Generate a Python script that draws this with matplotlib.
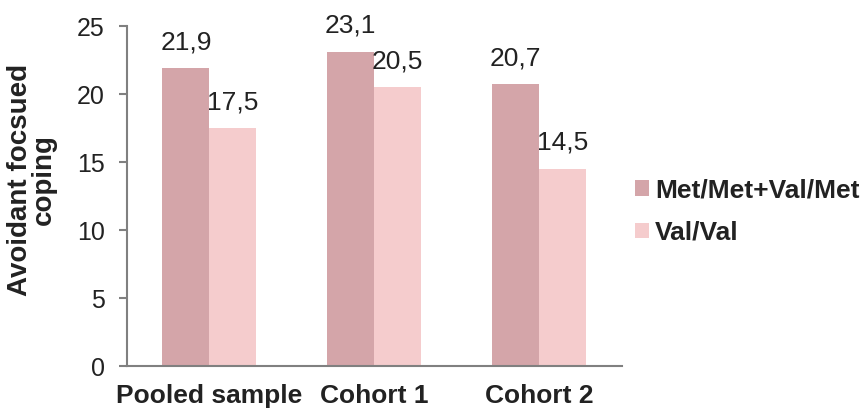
import matplotlib
matplotlib.use("Agg")
import matplotlib.pyplot as plt
import numpy as np

categories = ["Pooled sample", "Cohort 1", "Cohort 2"]
series_names = ["Met/Met+Val/Met", "Val/Val"]
met_values = [21.9, 23.1, 20.7]
val_values = [17.5, 20.5, 14.5]
yticks = [0, 5, 10, 15, 20, 25]

colors = ["#D4A5A9", "#F5CCCD"]
spine_color = "#808080"
text_color = "#222222"

plt.rcParams["font.family"] = ["Liberation Sans", "DejaVu Sans"]

fig = plt.figure(figsize=(8.66, 4.09), dpi=100)
ax = fig.add_axes([0.1467, 0.105, 0.571, 0.8314])

x = np.arange(len(categories))
w = 0.285
b1 = ax.bar(x - w / 2, met_values, width=w, color=colors[0], label=series_names[0])
b2 = ax.bar(x + w / 2, val_values, width=w, color=colors[1], label=series_names[1])

for bars, vals in ((b1, met_values), (b2, val_values)):
    for rect, v in zip(bars, vals):
        ax.annotate(f"{v:.1f}".replace(".", ","),
                    (rect.get_x() + rect.get_width() / 2, v),
                    xytext=(0, 10), textcoords="offset points",
                    ha="center", va="bottom", fontsize=19, color=text_color)

ax.set_xlim(-0.5, 2.5)
ax.set_ylim(0, 25)
ax.set_yticks(yticks)
ax.set_yticklabels([str(t) for t in yticks], fontsize=18, color=text_color)
ax.set_xticks(x)
ax.set_xticklabels(categories, fontsize=19, fontweight="bold", color=text_color)
ax.tick_params(axis="x", length=0, pad=13)
ax.tick_params(axis="y", length=6, width=1.5, color=spine_color, pad=10)

for s in ("top", "right"):
    ax.spines[s].set_visible(False)
for s in ("left", "bottom"):
    ax.spines[s].set_color(spine_color)
    ax.spines[s].set_linewidth(1.5)

ax.set_ylabel("Avoidant focsued\ncoping", fontsize=20, fontweight="bold",
              color=text_color, linespacing=0.9)
ax.yaxis.set_label_coords(-0.1416, 0.547)

leg = fig.legend(handles=[b1, b2], labels=series_names,
                 loc="center left", bbox_to_anchor=(635 / 866, 0.483),
                 frameon=False, borderpad=0, borderaxespad=0,
                 prop={"size": 19, "weight": "bold"}, handlelength=0.53,
                 handleheight=0.53, handletextpad=0.23, labelspacing=0.7)
for t in leg.get_texts():
    t.set_color(text_color)

fig.savefig("out.png", dpi=100)
